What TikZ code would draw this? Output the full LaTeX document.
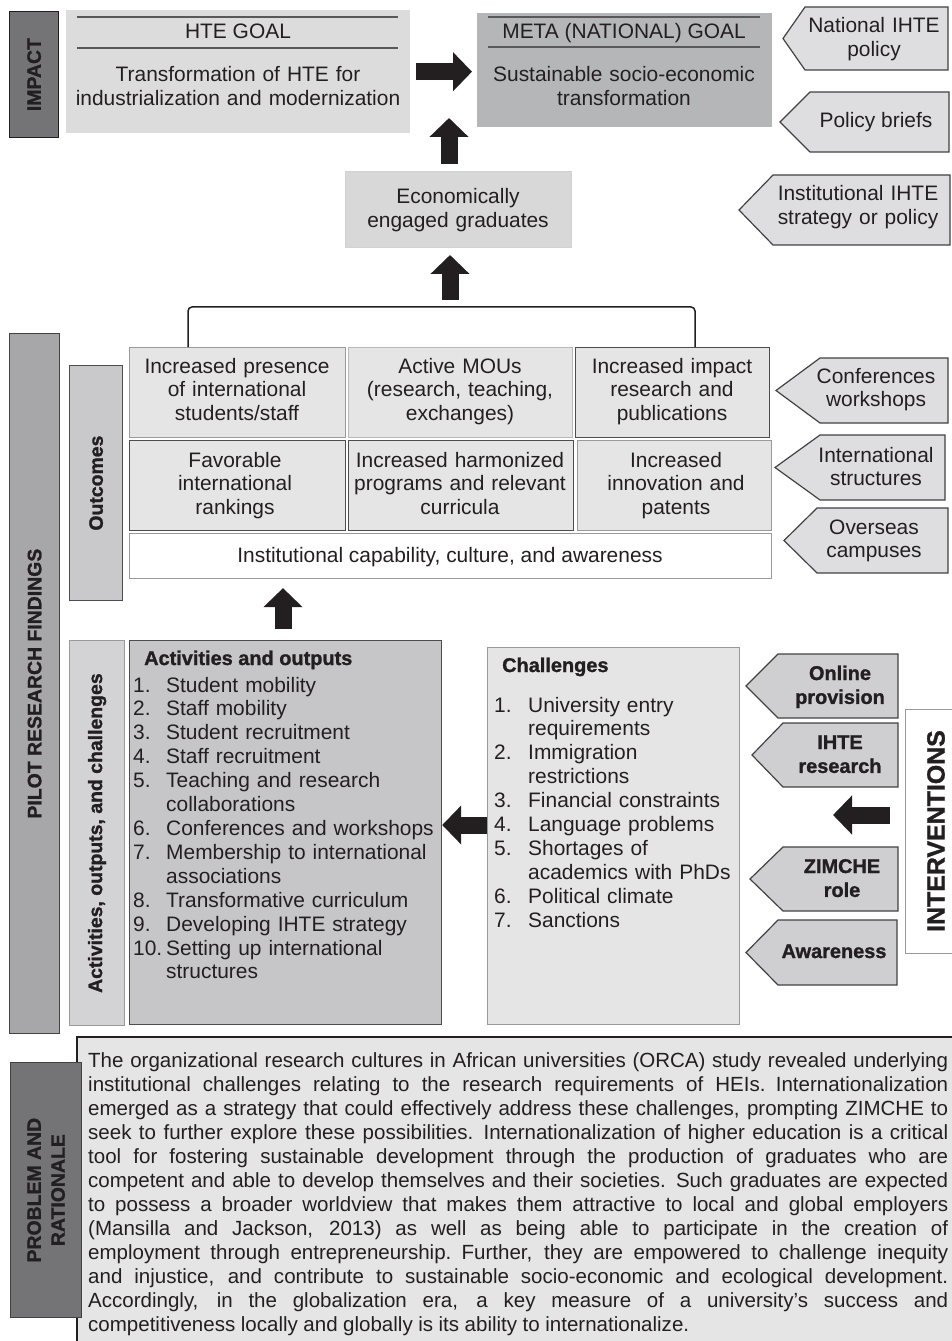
\documentclass[tikz,border=0pt]{standalone}
\usepackage{fontspec}
\setmainfont{Liberation Sans}
\newfontfamily\hvyfont{Liberation Sans}[BoldFeatures={FakeBold=1.2}]
\usetikzlibrary{arrows.meta}
\definecolor{ink}{HTML}{231F20}
\definecolor{gDark}{HTML}{747476}
\definecolor{gPilot}{HTML}{A7A7A9}
\definecolor{gOut}{HTML}{C9C9CB}
\definecolor{gAct}{HTML}{D3D3D5}
\definecolor{gHte}{HTML}{DCDCDD}
\definecolor{gMeta}{HTML}{B5B6B8}
\definecolor{gEcon}{HTML}{D8D8D9}
\definecolor{gLight}{HTML}{E5E5E6}
\definecolor{gActBox}{HTML}{C6C6C8}
\definecolor{gPentA}{HTML}{DEDEE0}
\definecolor{gPentB}{HTML}{CFCFD1}
\definecolor{gLine}{HTML}{9A9A9C}
\newcommand\bx[6]{\node[#6, anchor=north west, minimum width={(#4-#2)*1bp}, minimum height={(#5-#3)*1bp}] (#1) at (#2,#3) {};}
\newcommand\pent[6]{\draw[#6] (#1,{(#4+#5)/2}) -- (#2,#4) -- (#3,#4) -- (#3,#5) -- (#2,#5) -- cycle;}
\newcommand\nb[1]{\makebox[33bp][l]{#1}}
\newcommand\pl[1]{\leavevmode\hbox to 860bp{#1}\par}
\begin{document}
\begin{tikzpicture}[x=1bp,y=-1bp,
  every node/.style={inner sep=0pt, text=ink},
  txt/.style={font=\fontsize{21}{24}\selectfont},
  btxt/.style={font=\hvyfont\fontsize{20}{24}\selectfont\bfseries},
  rlab/.style={font=\hvyfont\fontsize{19.5}{24}\selectfont\bfseries, rotate=90, align=center},
  goalrule/.style={draw=ink!75, line width=1.1bp},
  bigarrow/.style={draw=ink, line width=17bp, -{Triangle[length=19bp,width=38bp]}},
  pentA/.style={fill=gPentA, draw=ink!85, line width=1.2bp},
  pentB/.style={fill=gPentB, draw=ink!85, line width=1.2bp},
]
\useasboundingbox (0,0) rectangle (951,1341);

% ---------------- IMPACT ----------------
\bx{imp}{9}{11}{58}{137}{fill=gDark, draw=ink, line width=1.2bp}
\node[rlab] (impT) at (imp.center) {IMPACT};

\bx{hte}{66}{10}{410}{133}{fill=gHte}
\draw[goalrule] (77,17) -- (398,17) (77,48) -- (398,48);
\node[txt, anchor=base] (hteH) at (238,39) {HTE GOAL};
\node[txt, anchor=base, text width=340bp, align=center] (hteB) at (238,82) {Transformation of HTE for\\industrialization and modernization};

\bx{meta}{477}{13}{772}{127}{fill=gMeta}
\draw[goalrule] (488,17) -- (760,17) (488,47) -- (760,47);
\node[txt, anchor=base] (metaH) at (624,39) {META (NATIONAL) GOAL};
\node[txt, anchor=base, text width=290bp, align=center] (metaB) at (624,82) {Sustainable socio-economic\\transformation};

\draw[bigarrow, shorten <=6bp, shorten >=5bp] (hte.east) -- (hte.east -| meta.west);

\bx{econ}{345}{171}{571}{247}{fill=gEcon, draw=ink!20, line width=1bp}
\node[txt, anchor=base, text width=220bp, align=center] (econT) at (458,204) {Economically\\engaged graduates};

\coordinate (upTip) at (449,118);
\draw[bigarrow, shorten <=7bp] (econ.north -| upTip) -- (upTip);

% right-hand top pentagons
\pent{783}{805}{948}{7}{70}{pentA}
\node[txt, anchor=base, text width=160bp, align=center] (pNat) at (874,33) {National IHTE\\policy};
\pent{780}{810}{949}{92}{152}{pentA}
\node[txt, anchor=base] (pBrief) at (876,128) {Policy briefs};
\pent{739}{773}{950}{175}{245}{pentA}
\node[txt, anchor=base, text width=200bp, align=center] (pInst) at (858,201) {Institutional IHTE\\strategy or policy};

% ---------------- PILOT RESEARCH FINDINGS ----------------
\bx{pilot}{9}{333}{59}{1033}{fill=gPilot, draw=ink!85, line width=1.2bp}
\node[rlab] (pilotT) at (pilot.center) {PILOT RESEARCH FINDINGS};

\bx{outc}{69}{365}{122}{600}{fill=gOut, draw=ink!80, line width=1.2bp}
\node[rlab] (outcT) at (outc.center) {Outcomes};

\bx{oA}{129}{347}{345}{437}{fill=gLight, draw=gLine, line width=1.1bp}
\bx{oB}{348}{347}{572}{437}{fill=gLight, draw=gLine!70, line width=1.1bp}
\bx{oC}{575}{347}{769}{437}{fill=gLight, draw=ink!80, line width=1.1bp}
\bx{oD}{129}{440}{345}{530}{fill=gLight, draw=ink!80, line width=1.1bp}
\bx{oE}{348}{440}{573}{530}{fill=gLight, draw=ink!80, line width=1.1bp}
\bx{oF}{577}{440}{771}{530}{fill=gLight, draw=gLine, line width=1.1bp}
\bx{oI}{129}{533}{771}{578}{fill=white, draw=gLine, line width=1.1bp}

\node[txt, anchor=base, text width=214bp, align=center] (oAT) at (237,373) {Increased presence\\of international\\students/staff};
\node[txt, anchor=base, text width=222bp, align=center] (oBT) at (460,373) {Active MOUs\\(research, teaching,\\exchanges)};
\node[txt, anchor=base, text width=192bp, align=center] (oCT) at (672,373) {Increased impact\\research and\\publications};
\node[txt, anchor=base, text width=214bp, align=center] (oDT) at (235,467) {Favorable\\international\\rankings};
\node[txt, anchor=base, text width=224bp, align=center] (oET) at (460,467) {Increased harmonized\\programs and relevant\\curricula};
\node[txt, anchor=base, text width=192bp, align=center] (oFT) at (676,467) {Increased\\innovation and\\patents};
\node[txt, anchor=base] (oIT) at (450,562) {Institutional capability, culture, and awareness};

\coordinate (brL) at (188,307);
\coordinate (brR) at (695,307);
\coordinate (brM) at (450,307);
\draw[ink, line width=1.5bp, rounded corners=4bp] (brL |- oA.north) -- (brL) -- (brR) -- (brR |- oC.north);
\draw[bigarrow, shorten <=7bp, shorten >=7bp] (brM) -- (brM |- econ.south);

% middle right pentagons
\pent{776}{820}{948}{358}{423}{pentA}
\node[txt, anchor=base, text width=140bp, align=center] (pConf) at (876,383) {Conferences\\workshops};
\pent{775}{820}{945}{435}{500}{pentA}
\node[txt, anchor=base, text width=140bp, align=center] (pIntl) at (876,462) {International\\structures};
\pent{784}{817}{948}{508}{573}{pentA}
\node[txt, anchor=base, text width=140bp, align=center] (pOver) at (874,534) {Overseas\\campuses};

% activities
\bx{actbar}{69}{640}{124}{1025}{fill=gAct, draw=gLine, line width=1.2bp}
\node[rlab] (actbarT) at (actbar.center) {Activities, outputs, and challenges};

\bx{act}{129}{640}{441}{1024}{fill=gActBox, draw=ink!80, line width=1.2bp}
\coordinate (uaX) at (283,0);
\draw[bigarrow, shorten <=11bp, shorten >=9bp] (act.north -| uaX) -- (oI.south -| uaX);

\node[btxt, anchor=base west] (actH) at (144,665) {Activities and outputs};
\node[txt, anchor=base west, text width=306bp, align=left] (actL) at (133,692) {%
\nb{1.}Student mobility\\
\nb{2.}Staff mobility\\
\nb{3.}Student recruitment\\
\nb{4.}Staff recruitment\\
\nb{5.}Teaching and research\\
\nb{}collaborations\\
\nb{6.}Conferences and workshops\\
\nb{7.}Membership to international\\
\nb{}associations\\
\nb{8.}Transformative curriculum\\
\nb{9.}Developing IHTE strategy\\
\nb{10.}Setting up international\\
\nb{}structures};

% challenges
\bx{chal}{487}{647}{739}{1024}{fill=gLight, draw=gLine, line width=1.2bp}
\node[btxt, anchor=base west] (chalH) at (502,672) {Challenges};
\node[txt, anchor=base west, text width=240bp, align=left] (chalL) at (494,712) {%
\makebox[34bp][l]{1.}University entry\\
\makebox[34bp][l]{}requirements\\
\makebox[34bp][l]{2.}Immigration\\
\makebox[34bp][l]{}restrictions\\
\makebox[34bp][l]{3.}Financial constraints\\
\makebox[34bp][l]{4.}Language problems\\
\makebox[34bp][l]{5.}Shortages of\\
\makebox[34bp][l]{}academics with PhDs\\
\makebox[34bp][l]{6.}Political climate\\
\makebox[34bp][l]{7.}Sanctions};

\coordinate (caY) at (0,825);
\draw[bigarrow] (chal.west |- caY) -- (act.east |- caY);

% interventions
\pent{746}{778}{898}{654}{718}{pentB}
\node[btxt, anchor=base, text width=120bp, align=center] (iOnl) at (840,680) {Online\\provision};
\pent{752}{783}{898}{723}{787}{pentB}
\node[btxt, anchor=base, text width=120bp, align=center] (iRes) at (840,749) {IHTE\\research};
\pent{750}{783}{898}{847}{911}{pentB}
\node[btxt, anchor=base, text width=120bp, align=center] (iZim) at (842,873) {ZIMCHE\\role};
\pent{746}{778}{897}{920}{985}{pentB}
\node[btxt, anchor=base] (iAw) at (834,958) {Awareness};

\bx{intv}{905}{709}{975}{953}{fill=white, draw=gLine, line width=1.2bp}
\node[font=\hvyfont\fontsize{25}{28}\selectfont\bfseries, rotate=90] (intvT) at (936,831) {INTERVENTIONS};
\coordinate (ivTip) at (833,815);
\draw[bigarrow, shorten <=15bp] (intv.west |- ivTip) -- (ivTip);

% ---------------- PROBLEM AND RATIONALE ----------------
\bx{para}{77}{1037}{975}{1360}{fill=gLight}
\draw[ink, line width=2.2bp] (para.south west) -- (para.north west) -- (para.north east);
\bx{prob}{10}{1062}{81}{1317}{fill=gDark, draw=ink!85, line width=1.2bp}
\node[rlab] (probT) at (prob.center) {PROBLEM AND\\RATIONALE};

\node[anchor=base west, text width=862bp, font=\fontsize{20.6}{24.1}\selectfont] (paraT) at (88,1067) {%
\spaceskip=0.27em plus 1.5em minus 0.08em\relax
\pl{The organizational research cultures in African universities (ORCA) study revealed underlying}
\pl{institutional challenges relating to the research requirements of HEIs. Internationalization}
\pl{emerged as a strategy that could effectively address these challenges, prompting ZIMCHE to}
\pl{seek to further explore these possibilities. Internationalization of higher education is a critical}
\pl{tool for fostering sustainable development through the production of graduates who are}
\pl{competent and able to develop themselves and their societies. Such graduates are expected}
\pl{to possess a broader worldview that makes them attractive to local and global employers}
\pl{(Mansilla and Jackson, 2013) as well as being able to participate in the creation of}
\pl{employment through entrepreneurship. Further, they are empowered to challenge inequity}
\pl{and injustice, and contribute to sustainable socio-economic and ecological development.}
\pl{Accordingly, in the globalization era, a key measure of a university’s success and}
\leavevmode competitiveness locally and globally is its ability to internationalize.\par};

\end{tikzpicture}
\end{document}
